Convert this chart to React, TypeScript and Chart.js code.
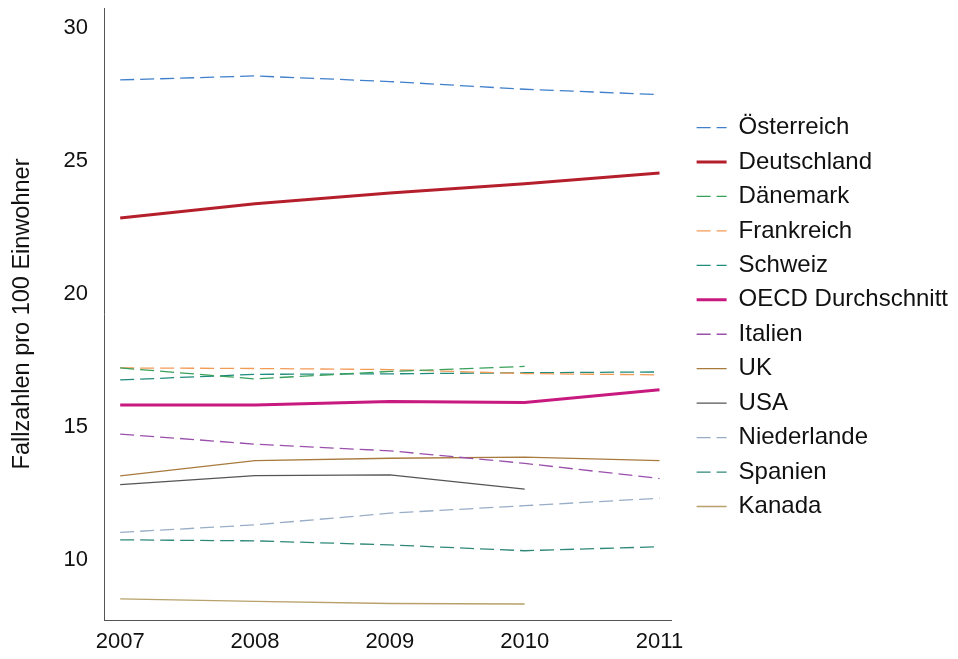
import React, { useEffect, useRef } from "react";
import { Chart, registerables } from "chart.js";

Chart.register(...registerables);

// ---- data ----
const years = [2007, 2008, 2009, 2010, 2011];
const yTicks = [10, 15, 20, 25, 30];

const oesterreich = [27.94, 28.09, 27.88, 27.59, 27.39];
const deutschland = [22.76, 23.29, 23.7, 24.04, 24.45];
const daenemark = [17.13, 16.72, 17.0, 17.19, null];
const frankreich = [17.13, 17.11, 17.07, 16.92, 16.87];
const schweiz = [16.68, 16.89, 16.91, 16.95, 16.98];
const oecd = [15.74, 15.74, 15.87, 15.83, 16.31];
const italien = [14.65, 14.27, 14.02, 13.55, 12.98];
const uk = [13.08, 13.65, 13.74, 13.78, 13.65];
const usa = [12.75, 13.09, 13.12, 12.58, null];
const niederlande = [10.96, 11.24, 11.68, 11.96, 12.24];
const spanien = [10.68, 10.64, 10.49, 10.27, 10.42];
const kanada = [8.46, 8.37, 8.29, 8.27, null];

const DASH = [14, 6];
const FONT = "'Liberation Sans', Arial, Helvetica, sans-serif";

const series = [
  { label: "Österreich", data: oesterreich, color: "#3f7fcb", dash: true, width: 1.3 },
  { label: "Deutschland", data: deutschland, color: "#b51f2c", dash: false, width: 3 },
  { label: "Dänemark", data: daenemark, color: "#38a05a", dash: true, width: 1.3 },
  { label: "Frankreich", data: frankreich, color: "#f39a55", dash: true, width: 1.3 },
  { label: "Schweiz", data: schweiz, color: "#1f8c7c", dash: true, width: 1.3 },
  { label: "OECD Durchschnitt", data: oecd, color: "#c8197f", dash: false, width: 3 },
  { label: "Italien", data: italien, color: "#9a4fac", dash: true, width: 1.3 },
  { label: "UK", data: uk, color: "#a87a3e", dash: false, width: 1.3 },
  { label: "USA", data: usa, color: "#555555", dash: false, width: 1.3 },
  { label: "Niederlande", data: niederlande, color: "#98adc6", dash: true, width: 1.3 },
  { label: "Spanien", data: spanien, color: "#2e8878", dash: true, width: 1.3 },
  { label: "Kanada", data: kanada, color: "#b8a16a", dash: false, width: 1.3 },
];

export default function App() {
  const canvasRef = useRef<HTMLCanvasElement | null>(null);

  useEffect(() => {
    if (!canvasRef.current) return;
    const datasets = series.map((s) => ({
      label: s.label,
      data: years
        .map((x, i) => ({ x, y: s.data[i] }))
        .filter((p) => p.y !== null && p.y !== undefined),
      borderColor: s.color,
      backgroundColor: s.color,
      borderWidth: s.width,
      borderDash: s.dash ? DASH : [],
      borderCapStyle: "butt" as const,
      borderJoinStyle: "round" as const,
      pointRadius: 0,
      pointHoverRadius: 0,
      pointStyle: "line" as const,
      tension: 0,
      fill: false,
    }));

    const zeroPad = (s: any) => {
      s.paddingTop = 0;
      s.paddingBottom = 0;
      s.paddingLeft = 0;
      s.paddingRight = 0;
    };

    const chart = new Chart(canvasRef.current, {
      type: "line",
      data: { datasets },
      options: {
        responsive: true,
        maintainAspectRatio: false,
        animation: false,
        layout: { padding: { top: 8, bottom: 0, left: 0, right: 0 } },
        plugins: {
          tooltip: { enabled: false },
          legend: {
            position: "right",
            align: "center",
            fullSize: false,
            maxWidth: 320,
            title: { display: true, text: "", padding: 0, font: { size: 5 } },
            labels: {
              usePointStyle: true,
              pointStyle: "line",
              pointStyleWidth: 30,
              boxWidth: 30,
              padding: 10.45,
              color: "#111",
              font: { family: FONT, size: 24 },
              generateLabels: (c: any) => {
                const items = (Chart.defaults as any).plugins.legend.labels.generateLabels(c);
                return items.map((it: any) => {
                  const s = series[it.datasetIndex];
                  return {
                    ...it,
                    lineDash: s.dash ? DASH : [],
                    lineWidth: s.width,
                    strokeStyle: s.color,
                    fillStyle: s.color,
                    pointStyle: "line",
                  };
                });
              },
            },
          },
        },
        scales: {
          x: {
            type: "linear",
            min: 2006.88,
            max: 2011.09,
            afterBuildTicks: (s: any) => {
              s.ticks = years.map((v) => ({ value: v }));
            },
            afterFit: (s: any) => {
              s.height = 39;
              zeroPad(s);
            },
            ticks: {
              padding: 9,
              color: "#111",
              font: { family: FONT, size: 22 },
              callback: (v: any) => String(v),
              maxRotation: 0,
              autoSkip: false,
            },
            grid: { display: false, drawTicks: false },
            border: { display: true, color: "#555", width: 1 },
          },
          y: {
            type: "linear",
            min: 7.67,
            max: 30.64,
            afterBuildTicks: (s: any) => {
              s.ticks = yTicks.map((v) => ({ value: v }));
            },
            afterFit: (s: any) => {
              s.width = 104;
              zeroPad(s);
            },
            ticks: {
              padding: 16,
              labelOffset: 2.5,
              color: "#111",
              font: { family: FONT, size: 22 },
              autoSkip: false,
            },
            grid: { display: false, drawTicks: false },
            border: { display: true, color: "#555", width: 1 },
            title: {
              display: true,
              text: "Fallzahlen pro 100 Einwohner",
              color: "#111",
              font: { family: FONT, size: 23.5 },
              padding: { top: 8, bottom: 0 },
            },
          },
          gap: {
            type: "linear",
            position: "right",
            display: true,
            grid: { display: false, drawTicks: false },
            border: { display: false },
            ticks: { display: false },
            afterFit: (s: any) => {
              s.width = 14.5;
              zeroPad(s);
            },
          },
        },
      } as any,
    });
    return () => chart.destroy();
  }, []);

  return (
    <div style={{ position: "fixed", left: 0, top: 0, width: 958, height: 659, background: "#fff" }}>
      <canvas ref={canvasRef} />
    </div>
  );
}
